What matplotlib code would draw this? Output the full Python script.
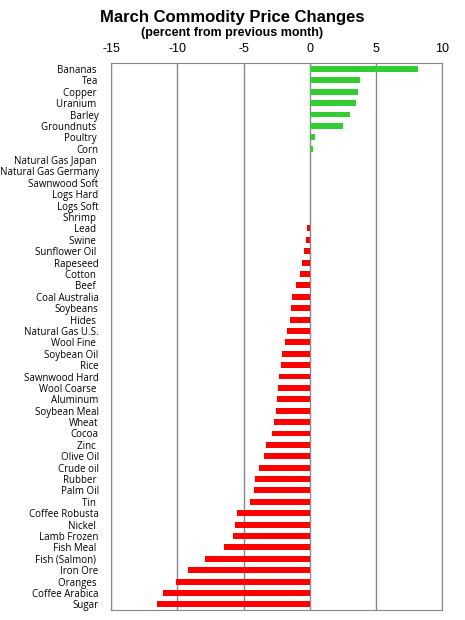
import matplotlib.pyplot as plt

plt.rcParams['axes.unicode_minus'] = False

names = ['Bananas ', 'Tea', 'Copper ', 'Uranium ', 'Barley', 'Groundnuts ', 'Poultry ', 'Corn',
         'Natural Gas Japan ', 'Natural Gas Germany', 'Sawnwood Soft', 'Logs Hard', 'Logs Soft',
         'Shrimp ', 'Lead ', 'Swine ', 'Sunflower Oil ', 'Rapeseed', 'Cotton ', 'Beef ',
         'Coal Australia', 'Soybeans', 'Hides ', 'Natural Gas U.S.', 'Wool Fine ', 'Soybean Oil',
         'Rice', 'Sawnwood Hard', 'Wool Coarse ', 'Aluminum', 'Soybean Meal', 'Wheat', 'Cocoa',
         'Zinc ', 'Olive Oil', 'Crude oil', 'Rubber ', 'Palm Oil', 'Tin ', 'Coffee Robusta',
         'Nickel ', 'Lamb Frozen', 'Fish Meal ', 'Fish (Salmon) ', 'Iron Ore', 'Oranges ',
         'Coffee Arabica', 'Sugar']
changes = [8.16, 3.78, 3.65, 3.52, 3.07, 2.49, 0.4, 0.27,
           0, 0, 0, 0, 0,
           0, -0.24, -0.29, -0.47, -0.62, -0.77, -1.07,
           -1.35, -1.42, -1.5, -1.72, -1.88, -2.1,
           -2.18, -2.33, -2.4, -2.48, -2.56, -2.71, -2.86,
           -3.31, -3.46, -3.84, -4.14, -4.22, -4.52, -5.5,
           -5.65, -5.8, -6.48, -7.92, -9.2, -10.1,
           -11.09, -11.54]

colors = ['#33CC33' if v > 0 else '#FF0000' for v in changes]

fig = plt.figure(figsize=(4.65, 6.2), dpi=100)
ax = fig.add_axes([0.239, 0.016, 0.712, 0.882])

pos = list(range(len(names)))
ax.barh(pos, changes, height=0.52, color=colors, zorder=3)
ax.set_ylim(len(names) - 0.5, -0.5)
ax.set_xlim(-15, 10)
ax.set_xticks([-15, -10, -5, 0, 5, 10])
ax.xaxis.tick_top()
ax.tick_params(axis='x', length=0, pad=6, labelsize=9)
for lab in ax.get_xticklabels():
    lab.set_family('Liberation Sans')
ax.set_yticks(pos)
ax.set_yticklabels(names, fontsize=7, family='Open Sans')
ax.tick_params(axis='y', length=0, pad=9)
ax.grid(axis='x', color='#888888', linewidth=1, zorder=0)
for s in ax.spines.values():
    s.set_color('#888888')

fig.text(0.5, 0.972, 'March Commodity Price Changes', ha='center', va='center',
         fontsize=12, fontweight='bold', family='Liberation Sans')
fig.text(0.5, 0.947, '(percent from previous month)', ha='center', va='center',
         fontsize=9, fontweight='bold', family='Liberation Sans')

fig.savefig('out.png', dpi=100)
